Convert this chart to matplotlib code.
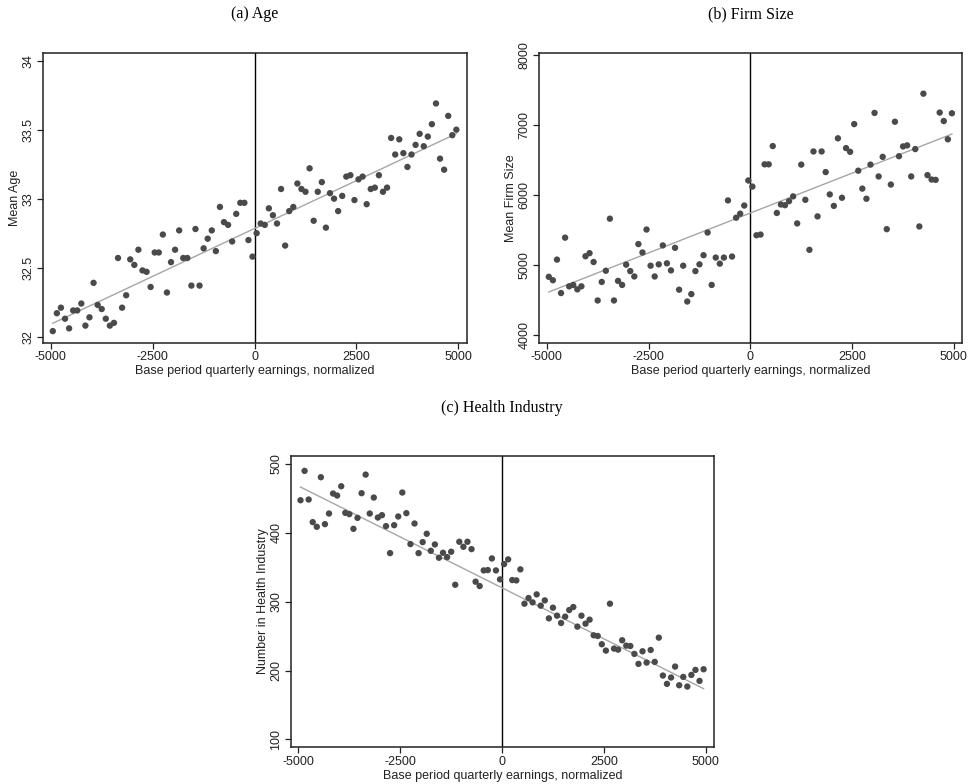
import matplotlib.pyplot as plt
import numpy as np

# bin centres of base period quarterly earnings
earnings = np.arange(-4950, 5000, 100)

mean_age = [
    32.04, 32.17, 32.21, 32.13, 32.06, 32.19, 32.19, 32.24, 32.08, 32.14,
    32.39, 32.23, 32.20, 32.13, 32.08, 32.10, 32.57, 32.21, 32.30, 32.56,
    32.52, 32.63, 32.48, 32.47, 32.36, 32.61, 32.61, 32.74, 32.32, 32.54,
    32.63, 32.77, 32.57, 32.57, 32.37, 32.78, 32.37, 32.64, 32.71, 32.77,
    32.62, 32.94, 32.83, 32.81, 32.69, 32.89, 32.97, 32.97, 32.70,
    32.58, 32.75, 32.82, 32.81, 32.93, 32.88, 32.82, 33.07, 32.66, 32.91,
    32.94, 33.11, 33.07, 33.05, 33.22, 32.84, 33.05, 33.12, 32.79, 33.04,
    33.00, 32.91, 33.02, 33.16, 33.17, 32.99, 33.14, 33.16, 32.96, 33.07,
    33.08, 33.17, 33.05, 33.08, 33.44, 33.32, 33.43, 33.33, 33.23, 33.32,
    33.39, 33.47, 33.38, 33.45, 33.54, 33.69, 33.29, 33.21, 33.60, 33.46,
    33.50,
]

mean_firm_size = [
    4836, 4787, 5082, 4604, 5396, 4700, 4720, 4657, 4700, 5130,
    5174, 5048, 4498, 4763, 4923, 5667, 4498, 4778, 4720, 5010,
    4918, 4841, 5304, 5184, 5512, 4995, 4841, 5014, 5285, 5029,
    4928, 5251, 4652, 4995, 4483, 4589, 4918, 5014, 5145, 5469,
    4720, 5111, 5024, 5111, 5928, 5126, 5681, 5739, 5855,
    6213, 6126, 5430, 5440, 6444, 6444, 6705, 5749, 5870, 5860,
    5918, 5986, 5599, 6440, 5937, 5222, 6628, 5700, 6628, 6333,
    6014, 5850, 6816, 5966, 6676, 6623, 7019, 6353, 6097, 5952,
    6440, 7179, 6271, 6551, 5517, 6155, 7053, 6560, 6700, 6715,
    6271, 6662, 5556, 7454, 6290, 6227, 6222, 7184, 7063, 6802,
    7174,
]

num_health = [
    447.3, 489.9, 448.3, 415.5, 408.7, 480.7, 412.6, 428.0, 457.0, 454.1,
    467.6, 429.0, 427.1, 405.8, 421.7, 457.5, 484.5, 428.0, 451.2, 422.2,
    425.6, 409.7, 370.5, 411.1, 423.7, 458.5, 428.5, 383.6, 413.5, 370.5,
    386.5, 398.6, 373.9, 383.1, 363.8, 371.0, 364.7, 372.5, 324.6, 387.0,
    379.7, 387.0, 376.3, 329.0, 322.7, 345.4, 345.9, 362.8, 345.4,
    332.4, 354.6, 361.4, 331.4, 330.9, 346.9, 297.1, 305.3, 299.0, 310.6,
    294.2, 301.9, 275.8, 291.3, 279.7, 269.1, 278.3, 287.9, 292.3, 263.8,
    279.7, 268.1, 273.9, 251.2, 250.2, 238.2, 229.0, 297.1, 231.9, 230.4,
    244.0, 236.2, 235.7, 224.2, 209.7, 228.0, 211.6, 229.9, 212.6, 247.8,
    192.8, 180.7, 189.9, 205.8, 178.7, 190.8, 176.8, 193.7, 201.0, 185.0,
    201.9,
]

# linear fit lines (slope, intercept at 0)
fit_age = (1.388e-4, 32.784)
fit_firm = (0.228, 5748.0)
fit_health = (-0.02957, 320.1)

x_ticks = [-5000, -2500, 0, 2500, 5000]
x_label = "Base period quarterly earnings, normalized"

panels = [
    ("(a) Age", mean_age, fit_age, "Mean Age", [32, 32.5, 33, 33.5, 34],
     ["32", "32.5", "33", "33.5", "34"], (31.954, 34.058)),
    ("(b) Firm Size", mean_firm_size, fit_firm, "Mean Firm Size",
     [4000, 5000, 6000, 7000, 8000],
     ["4000", "5000", "6000", "7000", "8000"], (3890, 8040)),
    ("(c) Health Industry", num_health, fit_health, "Number in Health Industry",
     [100, 200, 300, 400, 500],
     ["100", "200", "300", "400", "500"], (88.6, 512)),
]

# axes boxes [left, bottom, width, height] in figure fraction
boxes = [
    [0.0442, 0.5625, 0.4355, 0.3703],
    [0.5540, 0.5625, 0.4350, 0.3703],
    [0.2988, 0.0468, 0.4350, 0.3720],
]
title_pos = [(0.262, 0.982), (0.772, 0.982), (0.516, 0.479)]

plt.rcParams['font.family'] = ['Liberation Sans', 'DejaVu Sans']

fig = plt.figure(figsize=(9.73, 7.84), dpi=100)

for (title, yvals, fit, ylab, yt, ytl, ylim), box, tpos in zip(panels, boxes, title_pos):
    ax = fig.add_axes(box)
    slope, icpt = fit
    ax.axvline(0, color="black", lw=1.0, zorder=1)
    ax.plot(earnings, slope * earnings + icpt, color="#a6a6a6", lw=1.0, zorder=2)
    ax.scatter(earnings, yvals, s=21, color="#4a4a4a", edgecolors="none", zorder=3)
    ax.set_xlim(-5190, 5205)
    ax.set_ylim(*ylim)
    ax.set_xticks(x_ticks)
    ax.set_xticklabels([str(t) for t in x_ticks])
    ax.set_yticks(yt)
    ax.set_yticklabels(ytl, rotation=90, va="center")
    ax.tick_params(direction="out", length=4, width=0.9, labelsize=9, pad=2,
                   color="#222222", labelcolor="#222222")
    for sp in ax.spines.values():
        sp.set_linewidth(1.1)
        sp.set_color("#222222")
    ax.set_xlabel(x_label, fontsize=9, labelpad=1.5, color="#222222")
    ax.set_ylabel(ylab, fontsize=9, labelpad=1, color="#222222")
    fig.text(tpos[0], tpos[1], title, ha="center", va="center",
             family="Liberation Serif", fontsize=11.5)

fig.savefig("out.png", dpi=100)
